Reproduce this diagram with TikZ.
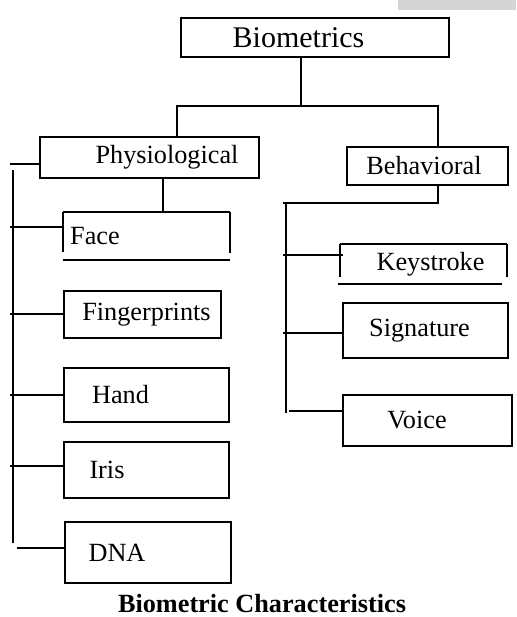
\documentclass[tikz,border=0pt]{standalone}
\usepackage{fontspec}
\setmainfont{Liberation Serif}
\usetikzlibrary{positioning}

\begin{document}
\begin{tikzpicture}[
    x=0.4pt, y=-0.4pt,
    line width=0.8pt,
    box/.style={draw, anchor=north west, inner sep=0pt, font=\fontsize{10.5}{12}\selectfont},
    openbox/.style={box, draw=none},
    nudge/.style={execute at begin node={\hspace*{#1}}},
]
\useasboundingbox (0,0) rectangle (516,617);
\fill[gray!33] (398,0) rectangle (516,10);

% top levels
\node[box, font=\fontsize{12}{14}\selectfont, minimum width=107.2pt, minimum height=15.6pt, nudge=-13.2pt] (bio) at (180,17) {Biometrics};
\node[box, minimum width=87.6pt, minimum height=16.4pt, nudge=14pt] (phys) at (39,136) {Physiological};
\node[box, minimum width=64.4pt, minimum height=15.2pt, nudge=-2.8pt] (behav) at (346,146) {Behavioral};

% physiological items
\node[openbox, minimum width=66pt, minimum height=18.4pt, nudge=-41.2pt] (face) at (63,212) {Face};
\node[box, minimum width=62.8pt, minimum height=18.8pt, nudge=3.2pt] (finger) at (63,290) {Fingerprints};
\node[box, minimum width=66pt, minimum height=21.6pt, nudge=-20.8pt] (hand) at (63,367) {Hand};
\node[box, minimum width=66pt, minimum height=22.4pt, nudge=-31.6pt] (iris) at (63,441) {Iris};
\node[box, minimum width=66.4pt, minimum height=24.4pt, nudge=-24.8pt] (dna) at (64,521) {DNA};

% behavioral items
\node[openbox, minimum width=66pt, minimum height=15.2pt, nudge=5.6pt] (key) at (340,244) {Keystroke};
\node[box, minimum width=66pt, minimum height=22pt, nudge=-4.8pt] (sig) at (342,302) {Signature};
\node[box, minimum width=67.6pt, minimum height=20.4pt, nudge=-8.4pt] (voice) at (342,394) {Voice};

% open outlines
\draw (face.north west) -- (face.north east);
\draw (face.north west) -- ++(0,40);
\draw (face.north east) -- ++(0,41);
\draw (face.south west) -- (face.south east);
\draw (key.north west) -- (key.north east);
\draw (key.north west) -- ++(0,33);
\draw (key.north east) -- ++(0,33);
\draw ([xshift=-0.8pt]key.south west) -- ([xshift=-2pt]key.south east);

% tree
\coordinate (join) at (301,106);
\coordinate (jl) at (177,106);
\coordinate (jr) at (438,106);
\draw (join |- bio.south) -- (join);
\draw (jl |- phys.north) -- (jl) -- (jr) -- (jr |- behav.north);

% left branch
\coordinate (pdrop) at (163,0);
\coordinate (lstub) at (10,164);
\coordinate (ltop) at (13,170);
\coordinate (lbot) at (13,543);
\draw (pdrop |- phys.south) -- (pdrop |- face.north);
\draw (lstub) -- (lstub -| phys.west);
\draw (ltop) -- (lbot);
\draw ([yshift=3.6pt]face.west) -- ++(-53,0);
\draw (finger.west) -- ++(-53,0);
\draw (hand.west) -- ++(-53,0);
\draw ([yshift=1.6pt]iris.west) -- ++(-53,0);
\draw ([yshift=1.8pt]dna.west) -- ++(-47,0);

% right branch
\coordinate (bjoin) at (438,203);
\coordinate (rjoin) at (283,203);
\coordinate (rtop) at (286,203);
\coordinate (rbot) at (286,413);
\draw (bjoin |- behav.south) -- (bjoin) -- (rjoin);
\draw (rtop) -- (rbot);
\draw ([shift={(1.2pt,3.6pt)}]key.west) -- ++(-60,0);
\draw ([yshift=-1pt]sig.west) -- ++(-59,0);
\draw ([yshift=3.8pt]voice.west) -- ++(-53,0);

\node[font=\bfseries\fontsize{10.5}{12}\selectfont] (caption) at (262,604) {Biometric Characteristics};
\end{tikzpicture}
\end{document}
